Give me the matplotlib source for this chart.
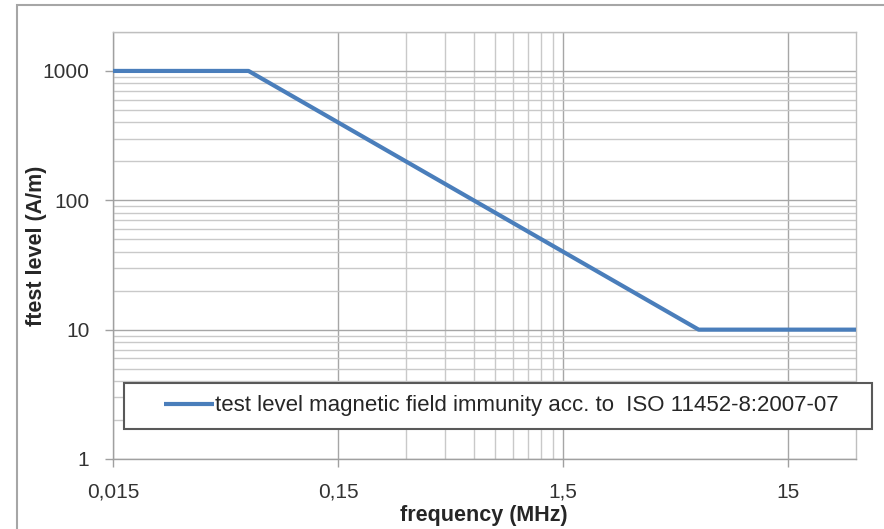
import matplotlib
matplotlib.use('Agg')
import matplotlib.pyplot as plt
from matplotlib.patches import Rectangle
from matplotlib.ticker import FixedLocator, NullFormatter

plt.rcParams['font.family'] = ['Liberation Sans', 'DejaVu Sans']

# data: test level vs frequency
freq = [0.015, 0.06, 6.0, 30.0]          # MHz
level = [1000, 1000, 10, 10]              # A/m
series_name = 'test level magnetic field immunity acc. to  ISO 11452-8:2007-07'

x_major = [0.015, 0.15, 1.5, 15]
x_major_labels = ['0,015', '0,15', '1,5', '15']
x_minor = [0.3, 0.45, 0.6, 0.75, 0.9, 1.05, 1.2, 1.35]
y_major = [1, 10, 100, 1000]
y_major_labels = ['1', '10', '100', '1000']

W, H = 884, 529
fig = plt.figure(figsize=(W / 100, H / 100), dpi=100)

# outer chart frame
fig.add_artist(Rectangle((17 / W, -0.05), 1.2, 1 - 5 / H + 0.05, transform=fig.transFigure,
                         facecolor='none', edgecolor='#A6A6A6', lw=1.5, zorder=0))

ax = fig.add_axes([113 / W, 1 - 459 / H, (856 - 113) / W, (459 - 32) / H])
ax.set_xscale('log')
ax.set_yscale('log')
ax.plot(freq, level, color='#4A7EBB', lw=3, solid_capstyle='butt', zorder=3, label=series_name)
ax.set_xlim(0.015, 30)
ax.set_ylim(1, 2000)

ax.xaxis.set_major_locator(FixedLocator(x_major))
ax.set_xticklabels(x_major_labels)
ax.xaxis.set_minor_locator(FixedLocator(x_minor))
ax.xaxis.set_minor_formatter(NullFormatter())

ax.yaxis.set_major_locator(FixedLocator(y_major))
ax.set_yticklabels(y_major_labels)
ax.yaxis.set_minor_locator(FixedLocator([k * 10 ** n for n in range(4) for k in range(2, 10)]))
ax.yaxis.set_minor_formatter(NullFormatter())

ax.grid(which='major', color='#A6A6A6', lw=1)
ax.grid(which='minor', color='#C9C9C9', lw=1)
ax.set_axisbelow(True)

for s in ax.spines.values():
    s.set_color('#BFBFBF')
    s.set_linewidth(1)
ax.spines['left'].set_color('#A0A0A0')
ax.spines['bottom'].set_color('#A0A0A0')

ax.tick_params(which='major', length=6, width=1, color='#A0A0A0', labelsize=15, labelcolor='#333333')
ax.tick_params(axis='y', which='major', pad=11)
ax.tick_params(axis='x', which='major', pad=11)
ax.tick_params(which='minor', length=0)

fig.text(37 / W, 1 - 246 / H, 'ftest level (A/m)', rotation=90, ha='center', va='center',
         fontsize=15.5, fontweight='bold', color='#262626')
fig.text(484 / W, 1 - 516 / H, 'frequency (MHz)', ha='center', va='center',
         fontsize=15.5, fontweight='bold', color='#262626')

# legend box
fig.add_artist(Rectangle((124 / W, 1 - 429 / H), (872 - 124) / W, (429 - 383) / H,
                         transform=fig.transFigure, facecolor='white', edgecolor='#595959',
                         lw=1.5, zorder=4))
leg = fig.legend(loc='center', bbox_to_anchor=(501 / W, 1 - 406 / H), frameon=False,
                 fontsize=16, handlelength=2.25, handletextpad=0.05, borderpad=0,
                 labelcolor='#262626')
leg.set_zorder(5)

fig.savefig('out.png', dpi=100)
